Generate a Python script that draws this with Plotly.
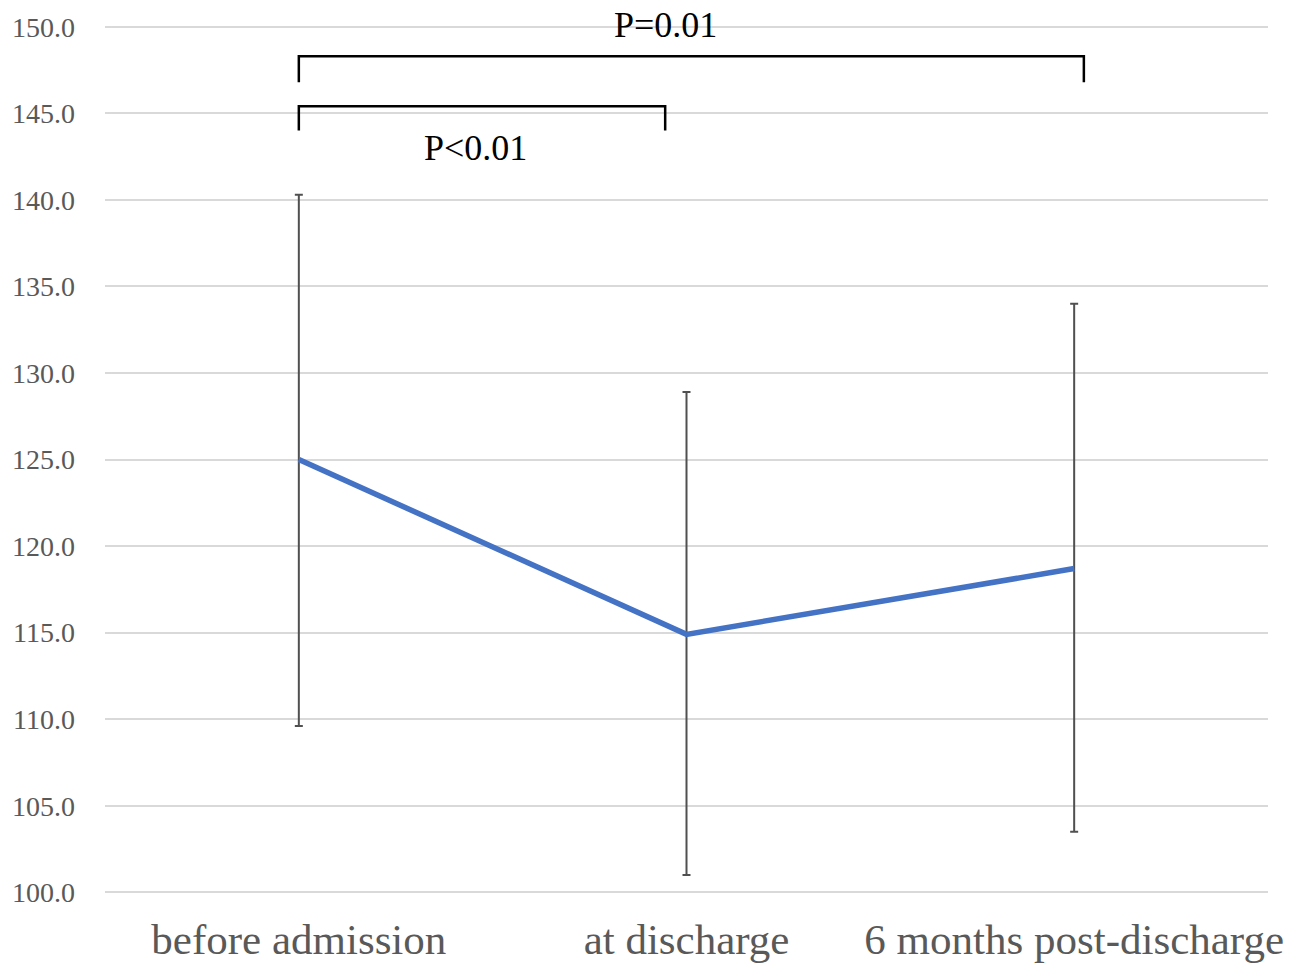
import plotly.graph_objects as go

categories = ["before admission", "at discharge", "6 months post-discharge"]
means = [125.0, 114.9, 118.7]
upper = [140.3, 128.9, 134.0]
lower = [109.6, 101.0, 103.5]

# significance brackets: (x_start, x_end, y_line, y_tip, label, label_x, label_y, label_shift)
brackets = [
    (0.0, 2.025, 148.3, 146.8, "P=0.01", 0.945, 150.0, 2),
    (0.0, 0.945, 145.4, 144.0, "P<0.01", 0.455, 143.0, 0),
]

err_plus = [u - m for u, m in zip(upper, means)]
err_minus = [m - l for m, l in zip(means, lower)]

fig = go.Figure()
fig.add_trace(go.Scatter(
    x=categories, y=means, mode="lines",
    line=dict(color="#4472C4", width=5.5),
    error_y=dict(type="data", symmetric=False, array=err_plus, arrayminus=err_minus,
                 color="#505050", thickness=2, width=4),
    showlegend=False, cliponaxis=False,
))

shapes = []
annotations = []
for x0, x1, yl, yt, lab, lx, ly, sh in brackets:
    shapes.append(dict(
        type="path", xref="x", yref="y",
        path=f"M {x0},{yt} L {x0},{yl} L {x1},{yl} L {x1},{yt}",
        line=dict(color="black", width=2.5),
    ))
    annotations.append(dict(
        x=lx, y=ly, xref="x", yref="y", text=lab, showarrow=False, yshift=sh,
        font=dict(family="Liberation Serif", size=36, color="black"),
    ))

fig.update_layout(
    width=1291, height=967,
    margin=dict(l=105, r=23, t=25.3, b=73.3, autoexpand=False),
    paper_bgcolor="white", plot_bgcolor="white",
    shapes=shapes, annotations=annotations,
    font=dict(family="Liberation Serif", color="#595959"),
    xaxis=dict(
        type="category", range=[-0.5, 2.5], showgrid=False, showline=False,
        ticks="", tickfont=dict(size=43, color="#595959"), automargin=False,
        ticklabelstandoff=16, zeroline=False,
    ),
    yaxis=dict(
        range=[99.9, 150.1], tickvals=[100, 105, 110, 115, 120, 125, 130, 135, 140, 145, 150],
        tickformat=".1f", showgrid=True, gridcolor="#d9d9d9", gridwidth=2,
        showline=False, zeroline=False, ticks="", automargin=False,
        tickfont=dict(size=28, color="#595959"), ticklabelstandoff=29,
    ),
)

fig.write_html("out.html")
